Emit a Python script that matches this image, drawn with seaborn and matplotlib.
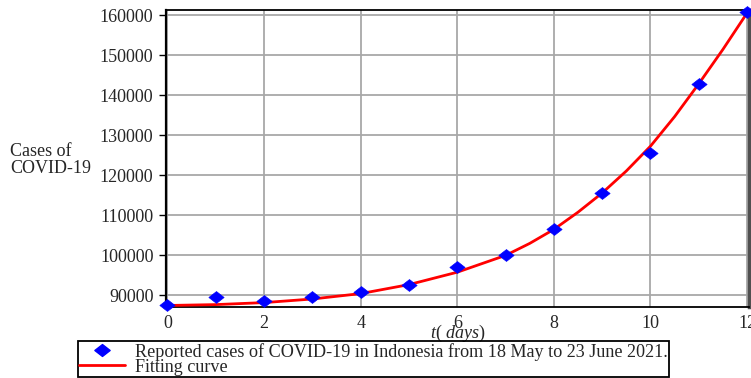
import numpy as np
import pandas as pd
import matplotlib
matplotlib.use("Agg")
import matplotlib.pyplot as plt
import seaborn as sns
from matplotlib.path import Path
from matplotlib.lines import Line2D

# Reported data
days = [0, 1, 2, 3, 4, 5, 6, 7, 8, 9, 10, 11, 12]
cases = [87500, 89500, 88500, 89500, 90700, 92500, 97000, 100000,
         106500, 115500, 125500, 142700, 160700]

# Fitting curve values
fit_t = [0, 1, 2, 3, 4, 5, 6, 7, 7.5, 8, 8.5, 9, 9.5, 10, 10.5, 11, 11.5, 12]
fit_cases = [87380, 87600, 88100, 89000, 90350, 92600, 95700, 99900, 102900,
             106400, 110700, 115500, 121000, 127200, 134600, 142800, 151400, 160500]

xticks = [0, 2, 4, 6, 8, 10, 12]
yticks = [90000, 100000, 110000, 120000, 130000, 140000, 150000, 160000]

legend_labels = ["Reported cases of COVID-19 in Indonesia from 18 May to 23 June 2021.",
                 "Fitting curve"]

sns.set_style("white")
plt.rcParams['font.family'] = ['Liberation Serif', 'DejaVu Serif']
plt.rcParams['mathtext.fontset'] = 'custom'
plt.rcParams['mathtext.rm'] = 'Liberation Serif'
plt.rcParams['mathtext.it'] = 'Liberation Serif:italic'

FS = 13

diamond = Path([(-1, 0), (0, 0.78), (1, 0), (0, -0.78), (-1, 0)],
               [Path.MOVETO, Path.LINETO, Path.LINETO, Path.LINETO, Path.CLOSEPOLY])

fig = plt.figure(figsize=(7.51, 3.78), dpi=100)
ax = fig.add_axes([166 / 751, 1 - 307 / 378, (749 - 166) / 751, (307 - 10) / 378])

ax.grid(True, color='#a8a8a8', lw=1.3)
ax.set_axisbelow(True)

df_fit = pd.DataFrame({"t": fit_t, "cases": fit_cases})
df_pts = pd.DataFrame({"t": days, "cases": cases})

sns.lineplot(data=df_fit, x="t", y="cases", color='red', lw=2, ax=ax, zorder=3,
             legend=False)
sns.scatterplot(data=df_pts, x="t", y="cases", marker=diamond, s=120, color='blue',
                edgecolor='blue', linewidth=0.5, ax=ax, zorder=4, legend=False,
                clip_on=False)

ax.set_xlim(-0.03, 12.04)
ax.set_ylim(87000, 161250)
ax.set_xticks(xticks)
ax.set_yticks(yticks)
ax.set_xticklabels([str(v) for v in xticks])
ax.set_yticklabels([str(v) for v in yticks])
ax.tick_params(axis='x', length=0, pad=6, labelsize=FS)
ax.tick_params(axis='y', length=5, width=1, direction='out', color='black',
               pad=4, labelsize=FS, left=True)

for side in ['left', 'bottom', 'top']:
    ax.spines[side].set_color('black')
    ax.spines[side].set_linewidth(1.3)
ax.spines['left'].set_linewidth(1.6)
ax.spines['right'].set_color('#505050')
ax.spines['right'].set_linewidth(2.5)

ax.set_xlabel(r"$t$( $days$)", fontsize=FS, labelpad=-6.5)
ax.set_ylabel("")
fig.text(10 / 751, 1 - 160 / 378, "Cases of\nCOVID-19", ha='left', va='center',
         fontsize=FS, linespacing=1.0)

handles = [Line2D([], [], marker=diamond, color='blue', ls='none', markersize=11),
           Line2D([], [], color='red', lw=2)]
leg = fig.legend(handles, legend_labels, loc='lower left',
                 bbox_to_anchor=(78 / 751, 1 / 378), fancybox=False,
                 edgecolor='black', framealpha=1, handlelength=2.5,
                 handletextpad=0.55, borderpad=0.08, labelspacing=-0.12,
                 fontsize=13.1, borderaxespad=0)
leg.get_frame().set_linewidth(1.3)
leg.get_frame().set_facecolor('none')

fig.savefig("out.png", dpi=100)
